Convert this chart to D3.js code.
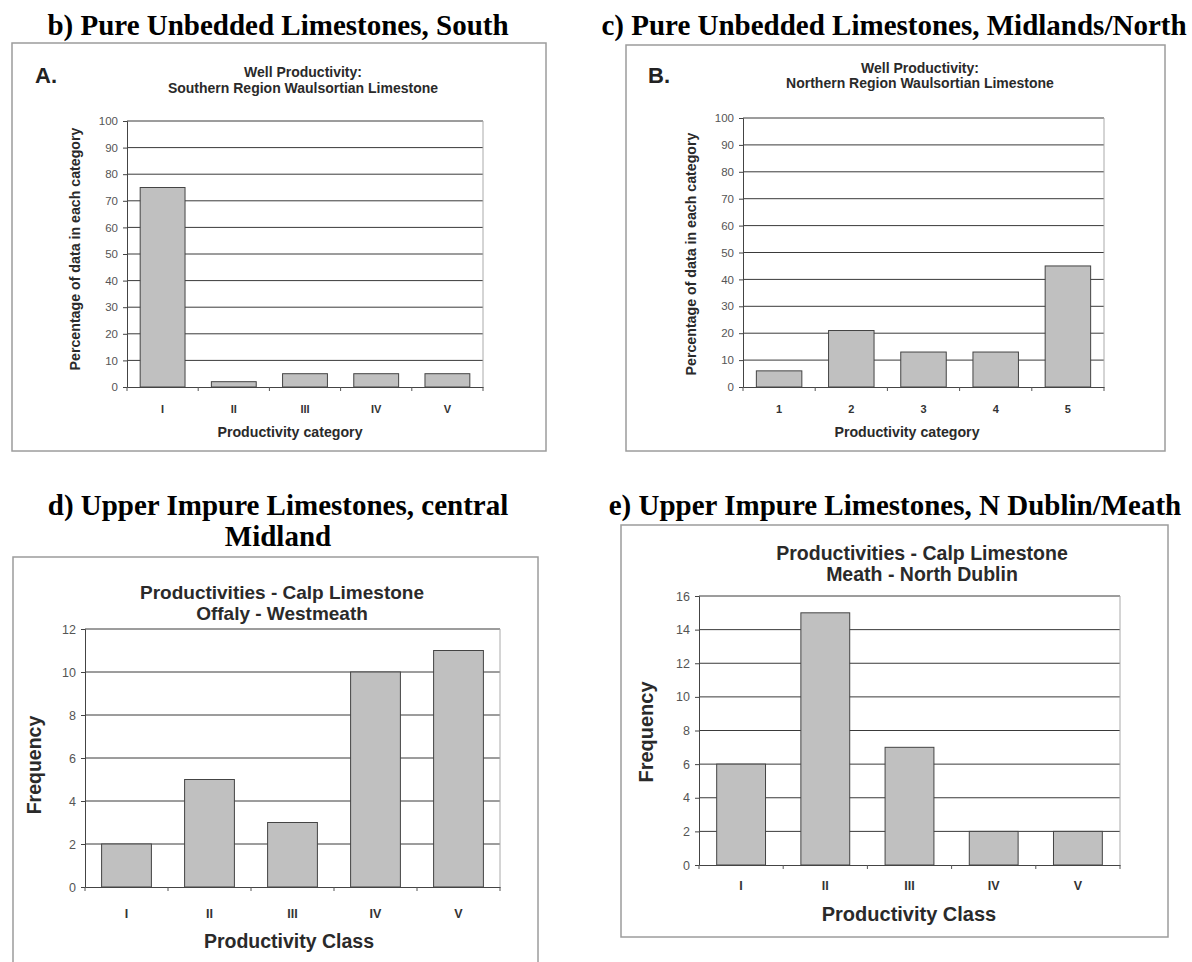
<!DOCTYPE html>
<html><head><meta charset="utf-8">
<script src="https://cdn.jsdelivr.net/npm/d3@7"></script>
<style>html,body{margin:0;padding:0;background:#fff;}svg{display:block;}</style>
</head><body>
<svg id="c" width="1192" height="962"></svg>
<script>
// ---- data ----
const romanCats = ["I", "II", "III", "IV", "V"];
const numberCats = ["1", "2", "3", "4", "5"];
const southValues = [75, 2, 5, 5, 5];
const northValues = [6, 21, 13, 13, 45];
const offalyValues = [2, 5, 3, 10, 11];
const meathValues = [6, 15, 7, 2, 2];
const percentTicks = [0, 10, 20, 30, 40, 50, 60, 70, 80, 90, 100];
const offalyTicks = [0, 2, 4, 6, 8, 10, 12];
const meathTicks = [0, 2, 4, 6, 8, 10, 12, 14, 16];

const panelTitles = [
  ["b) Pure Unbedded Limestones, South"],
  ["c) Pure Unbedded Limestones, Midlands/North"],
  ["d) Upper Impure Limestones, central", "Midland"],
  ["e) Upper Impure Limestones, N Dublin/Meath"]
];
const chartTitles = [
  ["Well Productivity:", "Southern Region Waulsortian Limestone"],
  ["Well Productivity:", "Northern Region Waulsortian Limestone"],
  ["Productivities - Calp Limestone", "Offaly - Westmeath"],
  ["Productivities - Calp Limestone", "Meath - North Dublin"]
];
const letters = ["A.", "B.", "", ""];
const xTitles = ["Productivity category", "Productivity category", "Productivity Class", "Productivity Class"];
const yTitles = ["Percentage of data in each category", "Percentage of data in each category", "Frequency", "Frequency"];

// ---- layout ----
const panels = [
  {cats: romanCats, vals: southValues, ticks: percentTicks, max: 100,
   titleX: 278, titleY: [35], box: [12, 43, 546, 451], letter: [35, 83],
   ctX: 303, ctY: [77, 93], ctSize: 14,
   plot: [127, 121, 483, 387], pad: 0.37, tickFs: 11.5, xlFs: 11, xlY: 413,
   xtX: 290, xtY: 437, ytX: 75, ytY: 249, axFs: 14.2},
  {cats: numberCats, vals: northValues, ticks: percentTicks, max: 100,
   titleX: 894, titleY: [35], box: [626, 45, 1165, 451], letter: [648, 83],
   ctX: 920, ctY: [73, 88], ctSize: 14,
   plot: [743, 118, 1104, 387], pad: 0.37, tickFs: 11.5, xlFs: 11, xlY: 413,
   xtX: 907, xtY: 437, ytX: 691, ytY: 254, axFs: 14.2},
  {cats: romanCats, vals: offalyValues, ticks: offalyTicks, max: 12,
   titleX: 278, titleY: [515, 546], box: [13, 557, 538, 990], letter: null,
   ctX: 282, ctY: [599, 620], ctSize: 19,
   plot: [85, 629, 500, 887], pad: 0.4, tickFs: 12.5, xlFs: 12.5, xlY: 918,
   xtX: 289, xtY: 948, ytX: 34, ytY: 765, axFs: 19.5},
  {cats: romanCats, vals: meathValues, ticks: meathTicks, max: 16,
   titleX: 895, titleY: [515], box: [621, 525, 1168, 937], letter: null,
   ctX: 922, ctY: [560, 581], ctSize: 19.5,
   plot: [699, 596, 1120, 865], pad: 0.42, tickFs: 12.5, xlFs: 12.5, xlY: 890,
   xtX: 909, xtY: 921, ytX: 646, ytY: 732, axFs: 20}
];

const svg = d3.select("#c");
const sans = "'Liberation Sans', Arial, sans-serif";
const serif = "'Liberation Serif', 'Times New Roman', serif";

panels.forEach((p, i) => {
  const g = svg.append("g");
  // panel title
  panelTitles[i].forEach((t, k) => {
    g.append("text").attr("x", p.titleX).attr("y", p.titleY[k])
      .attr("text-anchor", "middle").attr("font-family", serif)
      .attr("font-weight", "bold").attr("font-size", 29).attr("fill", "#000").text(t);
  });
  // box
  const [bx0, by0, bx1, by1] = p.box;
  g.append("rect").attr("x", bx0).attr("y", by0).attr("width", bx1 - bx0).attr("height", by1 - by0)
    .attr("fill", "#fff").attr("stroke", "#9c9c9c").attr("stroke-width", 1.5);
  if (letters[i]) {
    g.append("text").attr("x", p.letter[0]).attr("y", p.letter[1])
      .attr("font-family", sans).attr("font-weight", "bold").attr("font-size", 22)
      .attr("fill", "#222").text(letters[i]);
  }
  // chart title
  chartTitles[i].forEach((t, k) => {
    g.append("text").attr("x", p.ctX).attr("y", p.ctY[k]).attr("text-anchor", "middle")
      .attr("font-family", sans).attr("font-weight", "bold").attr("font-size", p.ctSize)
      .attr("fill", "#2a2a2a").text(t);
  });
  const [px0, py0, px1, py1] = p.plot;
  const x = d3.scaleBand().domain(p.cats).range([px0, px1]).paddingInner(p.pad).paddingOuter(p.pad / 2);
  const y = d3.scaleLinear().domain([0, p.max]).range([py1, py0]);
  // gridlines
  g.append("g").selectAll("line").data(p.ticks.filter(t => t > 0)).join("line")
    .attr("x1", px0).attr("x2", px1).attr("y1", d => y(d)).attr("y2", d => y(d))
    .attr("stroke", "#3a3a3a").attr("stroke-width", 1);
  // right border
  g.append("line").attr("x1", px1).attr("x2", px1).attr("y1", py0).attr("y2", py1)
    .attr("stroke", "#aaa").attr("stroke-width", 1);
  // bars
  g.append("g").selectAll("rect").data(p.cats.map((c, j) => ({c, v: p.vals[j]}))).join("rect")
    .attr("x", d => x(d.c)).attr("width", x.bandwidth())
    .attr("y", d => y(d.v)).attr("height", d => y(0) - y(d.v))
    .attr("fill", "#c0c0c0").attr("stroke", "#444").attr("stroke-width", 1);
  // y axis
  const ya = g.append("g").attr("transform", `translate(${px0},0)`)
    .call(d3.axisLeft(y).tickValues(p.ticks).tickSize(4).tickPadding(5));
  ya.select(".domain").attr("stroke", "#444");
  ya.selectAll(".tick line").attr("stroke", "#444");
  ya.selectAll("text").attr("font-family", sans).attr("font-size", p.tickFs).attr("fill", "#555");
  // x axis
  const xa = g.append("g").attr("transform", `translate(0,${py1})`)
    .call(d3.axisBottom(x).tickSize(0).tickPadding(0));
  xa.select(".domain").attr("stroke", "#444");
  xa.selectAll(".tick text").attr("font-family", sans).attr("font-weight", "bold")
    .attr("font-size", p.xlFs).attr("fill", "#333").attr("dy", null)
    .attr("y", p.xlY - py1);
  // band boundary ticks
  const step = x.step();
  const bounds = d3.range(p.cats.length + 1).map(k => px0 + k * step);
  g.append("g").selectAll("line").data(bounds).join("line")
    .attr("x1", d => d).attr("x2", d => d).attr("y1", py1).attr("y2", py1 + 4)
    .attr("stroke", "#555");
  // axis titles
  g.append("text").attr("x", p.xtX).attr("y", p.xtY).attr("text-anchor", "middle")
    .attr("font-family", sans).attr("font-weight", "bold").attr("font-size", p.axFs)
    .attr("fill", "#2a2a2a").text(xTitles[i]);
  g.append("text").attr("transform", `translate(${p.ytX},${p.ytY}) rotate(-90)`)
    .attr("text-anchor", "middle").attr("dy", "0.35em")
    .attr("font-family", sans).attr("font-weight", "bold").attr("font-size", p.axFs)
    .attr("fill", "#2a2a2a").text(yTitles[i]);
});
</script>
</body></html>
